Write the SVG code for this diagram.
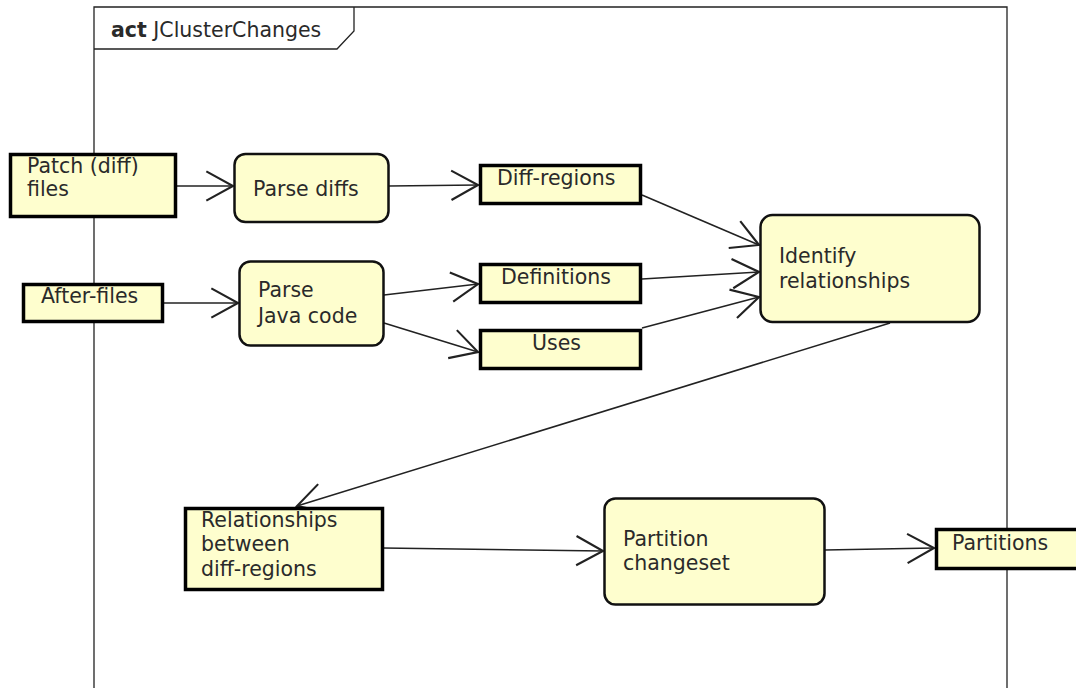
<svg xmlns="http://www.w3.org/2000/svg" width="1076" height="688" viewBox="0 0 1076 688">
<defs>
<style>
.obj{fill:#FEFECE;stroke:#000;stroke-width:3.5}
.act{fill:#FEFECE;stroke:#111;stroke-width:2.5}
.t{font-family:"DejaVu Sans",Verdana,sans-serif;font-size:20.5px;fill:#2a2a2a}
.c{fill:none;stroke:#222;stroke-width:1.6;marker-end:url(#ah)}
.frame{fill:none;stroke:#222;stroke-width:1.3}
</style>
<marker id="ah" markerUnits="userSpaceOnUse" markerWidth="40" markerHeight="40" viewBox="-25 -15 30 30" refX="0" refY="0" orient="auto" overflow="visible">
<path d="M-20,-11 L0,0 L-20,11" fill="none" stroke="#222" stroke-width="1.6"/>
</marker>
</defs>
<rect width="1076" height="688" fill="#fff"/>
<g id="frame">
<path class="frame" d="M94,700 V7 H1007 V700"/>
<path class="frame" d="M94,49 H337 L354,31 V7"/>
<text x="111" y="37" class="t"><tspan font-weight="bold">act</tspan> JClusterChanges</text>
</g>
<g id="connectors">
<path class="c" d="M177,186 L233,186"/>
<path class="c" d="M389,186 L478,185"/>
<path class="c" d="M164,303 L238,303"/>
<path class="c" d="M384,295 L478,284"/>
<path class="c" d="M384,323 L478,352"/>
<path class="c" d="M642,195 L759,245"/>
<path class="c" d="M642,279 L759,272"/>
<path class="c" d="M642,328 L759,297"/>
<path class="c" d="M890,323 L297,506"/>
<path class="c" d="M383,548 L603,551"/>
<path class="c" d="M825,550 L934,548"/>
</g>
<g id="patch">
<rect class="obj" x="10.5" y="154.5" width="165" height="62"/>
<text class="t" x="27" y="173">Patch (diff)</text>
<text class="t" x="27" y="196">files</text>
</g>
<g id="parsediffs">
<rect class="act" x="234.5" y="154" width="154" height="68" rx="11"/>
<text class="t" x="253" y="196">Parse diffs</text>
</g>
<g id="afterfiles">
<rect class="obj" x="23.5" y="284.5" width="139" height="37"/>
<text class="t" x="41" y="303">After-files</text>
</g>
<g id="parsejava">
<rect class="act" x="239.5" y="261.5" width="144" height="84" rx="11"/>
<text class="t" x="258" y="297">Parse</text>
<text class="t" x="258" y="323">Java code</text>
</g>
<g id="diffregions">
<rect class="obj" x="480.5" y="165.5" width="160" height="38"/>
<text class="t" x="497" y="185">Diff-regions</text>
</g>
<g id="definitions">
<rect class="obj" x="480.5" y="264.5" width="160" height="38"/>
<text class="t" x="501" y="284">Definitions</text>
</g>
<g id="uses">
<rect class="obj" x="480.5" y="330.5" width="160" height="38"/>
<text class="t" x="532" y="350">Uses</text>
</g>
<g id="identify">
<rect class="act" x="760.5" y="215" width="219" height="107" rx="12"/>
<text class="t" x="779" y="263">Identify</text>
<text class="t" x="779" y="288">relationships</text>
</g>
<g id="relationships">
<rect class="obj" x="185.5" y="508.5" width="197" height="81"/>
<text class="t" x="201" y="527">Relationships</text>
<text class="t" x="201" y="551">between</text>
<text class="t" x="201" y="576">diff-regions</text>
</g>
<g id="partition">
<rect class="act" x="604.5" y="498.5" width="220" height="106" rx="11"/>
<text class="t" x="623" y="546">Partition</text>
<text class="t" x="623" y="570">changeset</text>
</g>
<g id="partitions">
<rect class="obj" x="936.5" y="529.5" width="160" height="39"/>
<text class="t" x="952" y="550">Partitions</text>
</g>
</svg>
